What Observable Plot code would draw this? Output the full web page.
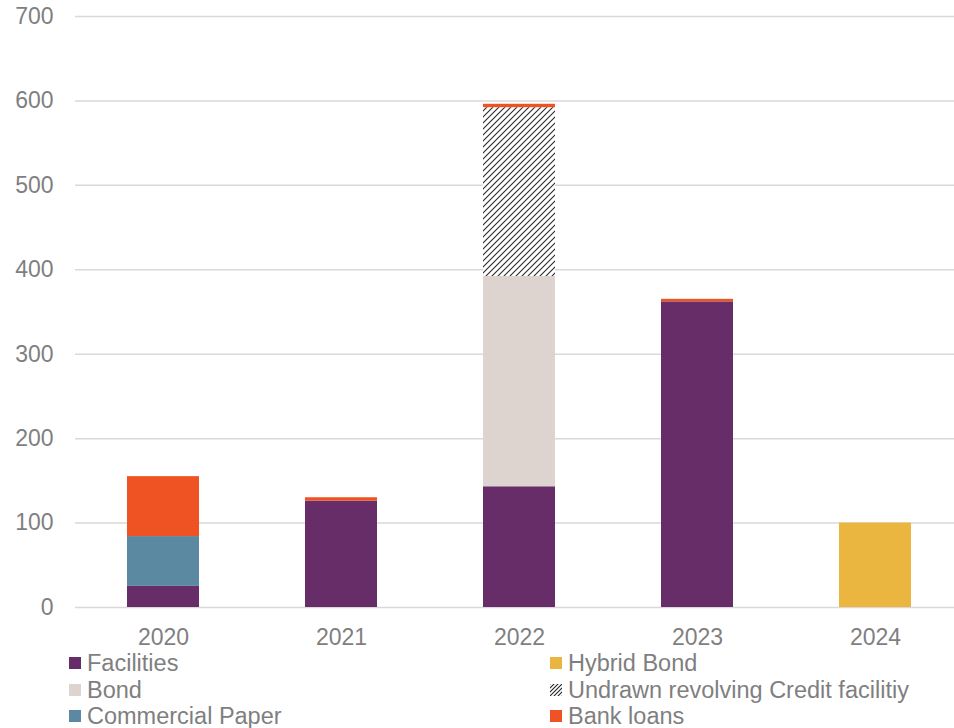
<!DOCTYPE html>
<html>
<head>
<meta charset="utf-8">
<script src="https://cdn.jsdelivr.net/npm/d3@7"></script>
<script src="https://cdn.jsdelivr.net/npm/@observablehq/plot@0.6"></script>
<style>
  html, body { margin: 0; padding: 0; background: #fff; }
  #wrap { position: relative; width: 954px; height: 728px; font-family: "Liberation Sans", Arial, sans-serif; }
  #legend { position: absolute; left: 0; top: 650px; width: 954px; height: 78px; }
  .item { position: absolute; height: 26px; line-height: 26px; font-size: 23.5px; color: #7f7f7f; white-space: nowrap; }
  .sw { position: absolute; top: 7px; width: 12px; height: 12px; }
  .lbl { position: absolute; left: 18px; top: 0; }
</style>
</head>
<body>
<div id="wrap"><div id="chart"></div><div id="legend"></div></div>
<script>
const years = ["2020", "2021", "2022", "2023", "2024"];
const seriesNames = ["Facilities", "Bond", "Commercial Paper", "Hybrid Bond", "Undrawn revolving Credit facilitiy", "Bank loans"];
const facilities      = [25, 126, 143, 362, 0];
const bond            = [0, 0, 249, 0, 0];
const commercialPaper = [59, 0, 0, 0, 0];
const hybridBond      = [0, 0, 0, 0, 100];
const undrawn         = [0, 0, 200, 0, 0];
const bankLoans       = [71, 4, 4, 3, 0];
const yTicks = [0, 100, 200, 300, 400, 500, 600, 700];
const seriesColors = ["#672d69", "#ddd3cf", "#5a89a1", "#ebb63f", "url(#hatch)", "#ef5323"];

const seriesValues = [facilities, bond, commercialPaper, hybridBond, undrawn, bankLoans];
const data = [];
years.forEach((yr, i) => {
  seriesNames.forEach((s, j) => {
    const v = seriesValues[j][i];
    if (v > 0) data.push({year: yr, series: s, value: v});
  });
});

const chart = Plot.plot({
  width: 954,
  height: 650,
  marginLeft: 75,
  marginRight: 0,
  marginTop: 16,
  marginBottom: 43,
  style: {fontFamily: "'Liberation Sans', Arial, sans-serif", fontSize: "23px", color: "#7f7f7f", background: "#fff"},
  x: {domain: years, range: [74, 964], paddingInner: 0.596, paddingOuter: 0.298, label: null},
  y: {domain: [0, 700], ticks: yTicks, label: null},
  color: {domain: seriesNames, range: seriesColors},
  marks: [
    Plot.ruleY(yTicks, {stroke: "#d9d9d9", strokeWidth: 1.5}),
    Plot.axisY({ticks: yTicks, tickSize: 0, tickPadding: 22, label: null, fill: "#7f7f7f"}),
    Plot.axisX({tickSize: 0, tickPadding: 21, label: null, fill: "#7f7f7f"}),
    Plot.barY(data, Plot.stackY({x: "year", y: "value", fill: "series", order: seriesNames}))
  ]
});

const defs = d3.select(chart).insert("defs", ":first-child");
const pat = defs.append("pattern").attr("id", "hatch").attr("patternUnits", "userSpaceOnUse")
  .attr("width", 6).attr("height", 6);
pat.append("rect").attr("width", 6).attr("height", 6).attr("fill", "#fff");
pat.append("path").attr("d", "M-1,1 L1,-1 M0,6 L6,0 M5,7 L7,5").attr("stroke", "#2a2a2a").attr("stroke-width", 1.1);

document.getElementById("chart").appendChild(chart);

// legend (below the SVG)
const legend = d3.select("#legend");
const colX = [69, 550];
seriesNames.forEach((s, j) => {
  const col = Math.floor(j / 3), row = j % 3;
  const item = legend.append("div").attr("class", "item")
    .style("left", colX[col] + "px").style("top", row * 26.5 + "px");
  if (seriesColors[j].startsWith("url")) {
    const svg = item.append("svg").attr("class", "sw").attr("width", 12).attr("height", 12);
    const d = svg.append("defs").append("pattern").attr("id", "hatch2").attr("patternUnits", "userSpaceOnUse")
      .attr("width", 4).attr("height", 4);
    d.append("rect").attr("width", 4).attr("height", 4).attr("fill", "#fff");
    d.append("path").attr("d", "M-1,1 L1,-1 M0,4 L4,0 M3,5 L5,3").attr("stroke", "#222").attr("stroke-width", 1.1);
    svg.append("rect").attr("width", 12).attr("height", 12).attr("fill", "url(#hatch2)");
  } else {
    item.append("div").attr("class", "sw").style("background", seriesColors[j]);
  }
  item.append("span").attr("class", "lbl").text(s);
});
</script>
</body>
</html>
